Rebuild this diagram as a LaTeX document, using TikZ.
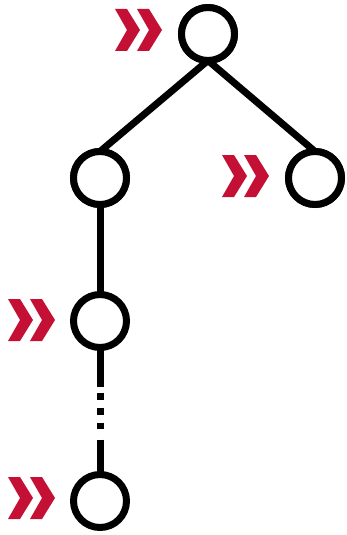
\documentclass[tikz,border=0pt]{standalone}
\definecolor{crim}{RGB}{196,16,52}
\begin{document}
\begin{tikzpicture}[x=1pt,y=-1pt,
  vert/.style={circle,draw=black,line width=7pt,minimum size=53pt,inner sep=0pt,outer sep=0pt,fill=white},
  edge/.style={line width=7pt,draw=black},
  chev/.pic={
    \fill[crim] (0,-21) -- (12,-21) -- (25,0) -- (12,21) -- (0,21) -- (12,0) -- cycle;
    \fill[crim] (22,-21) -- (34,-21) -- (47,0) -- (34,21) -- (22,21) -- (34,0) -- cycle;
  }]
\useasboundingbox (0,0) rectangle (346,535);
\node[vert] (t) at (208,34) {};
\node[vert] (l) at (100,178) {};
\node[vert] (r) at (315,178) {};
\node[vert] (m) at (100,321) {};
\node[vert] (b) at (100,501) {};
\draw[edge] (t.south) -- (l.north);
\draw[edge] (t.south) -- (r.north);
\draw[edge] (l) -- (m);
\draw[edge,dash pattern=on 39pt off 6pt on 7pt off 8pt on 7pt off 8pt on 6pt off 11pt on 60pt] (m.south) -- (b.north);
\node[vert] at (t) {};
\node[vert] at (l) {};
\node[vert] at (r) {};
\pic at (115,30) {chev};
\pic at (222,176) {chev};
\pic at (8,320) {chev};
\pic at (8,498) {chev};
\end{tikzpicture}
\end{document}
